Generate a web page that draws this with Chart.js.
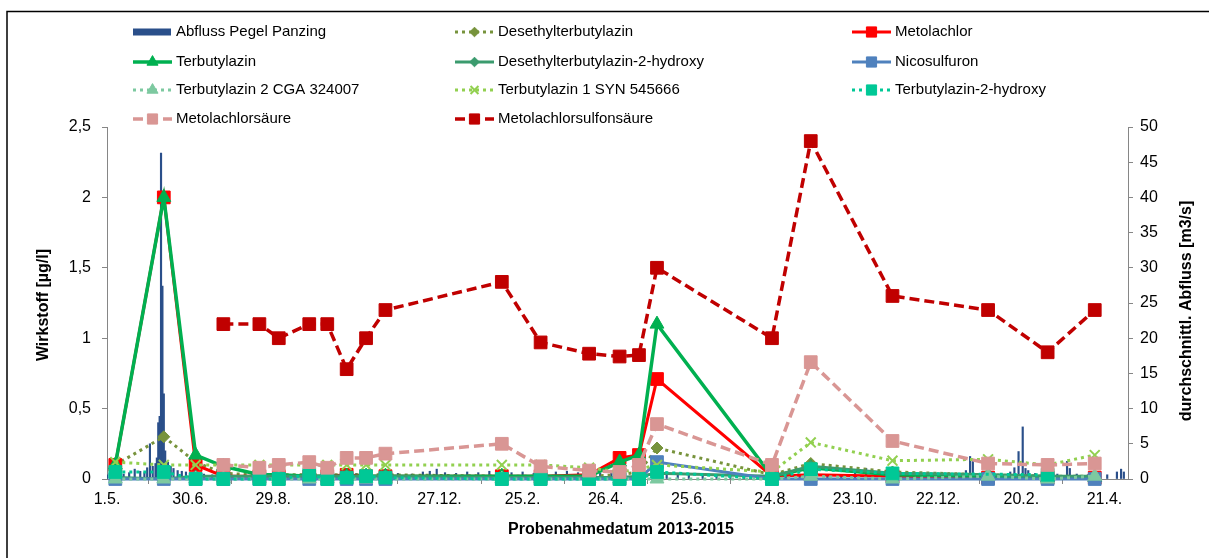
<!DOCTYPE html>
<html lang="de">
<head>
<meta charset="utf-8">
<title>Wirkstoffe und Abfluss Pegel Panzing 2013-2015</title>
<script src="https://cdn.jsdelivr.net/npm/chart.js@4.4.1/dist/chart.umd.min.js"></script>
<style>
  html, body { margin: 0; padding: 0; background: #fff; }
  #wrap { position: relative; width: 1209px; height: 558px; overflow: hidden; }
</style>
</head>
<body>
<div id="wrap"><canvas id="chart" width="1209" height="558"></canvas></div>
<script>
// --- Daten (Tage gezählt ab 1.5.2013) ---
const tickTage   = [0, 60, 120, 180, 240, 300, 360, 420, 480, 540, 600, 660, 720];
const tickLabels = ['1.5.', '30.6.', '29.8.', '28.10.', '27.12.', '25.2.', '26.4.', '25.6.', '24.8.', '23.10.', '22.12.', '20.2.', '21.4.'];

// Probenahmetermine
const probeTage = [6, 41, 64, 84, 110, 124, 146, 159, 173, 187, 201, 285, 313, 348, 370, 384, 397, 480, 508, 567, 636, 679, 713];

// Wirkstoffe [µg/l]
const desethylterbutylazin   = [0.1, 0.3, 0.12, 0.04, 0.03, 0.03, 0.03, 0.03, 0.03, 0.03, 0.03, 0.02, 0.02, 0.02, 0.03, 0.05, 0.22, 0.03, 0.11, 0.05, 0.03, 0.02, 0.02];
const metolachlor            = [0.1, 2.0, 0.1, 0.02, 0.02, 0.02, 0.02, 0.02, 0.03, 0.02, 0.02, 0.02, 0.02, 0.03, 0.15, 0.17, 0.71, 0.02, 0.03, 0.02, 0.01, 0.01, 0.01];
const terbutylazin           = [0.1, 2.0, 0.17, 0.09, 0.03, 0.03, 0.02, 0.02, 0.02, 0.02, 0.02, 0.02, 0.02, 0.02, 0.12, 0.17, 1.1, 0.02, 0.08, 0.03, 0.02, 0.01, 0.01];
const desethylTbaHydroxy     = [0.01, 0, 0.02, 0.02, 0.02, 0.02, 0.02, 0.02, 0.02, 0.02, 0.02, 0.01, 0.01, 0.01, 0.01, 0.02, 0.04, 0.02, 0.09, 0.04, 0.03, 0.02, 0.02];
const nicosulfuron           = [0, 0, 0, 0, 0, 0, 0, 0, 0, 0, 0, 0, 0, 0, 0, 0, 0.12, 0, 0, 0, 0, 0, 0];
const tbaCga324007           = [0, 0, 0, 0, 0, 0, 0, 0, 0, 0, 0, 0, 0, 0, 0, 0, 0, 0, 0.02, 0, 0.02, 0, 0.02];
const tbaSyn545666           = [0.12, 0.1, 0.1, 0.1, 0.1, 0.1, 0.1, 0.1, 0.1, 0.1, 0.1, 0.1, 0.1, 0.08, 0.05, 0.07, 0.1, 0.05, 0.26, 0.13, 0.14, 0.1, 0.17];
const tbaHydroxy             = [0.05, 0.05, 0, 0, 0, 0, 0.03, 0, 0.01, 0.02, 0.01, 0, 0, 0, 0, 0, 0.05, 0, 0.07, 0.04, null, 0.03, null];
const metolachlorsaeure      = [null, null, null, 0.1, 0.08, 0.1, 0.12, 0.08, 0.15, 0.15, 0.18, 0.25, 0.09, 0.06, 0.05, 0.1, 0.39, 0.1, 0.83, 0.27, 0.11, 0.1, 0.11];
const metolachlorsulfonsaeure = [null, null, null, 1.1, 1.1, 1.0, 1.1, 1.1, 0.78, 1.0, 1.2, 1.4, 0.97, 0.89, 0.87, 0.88, 1.5, 1.0, 2.4, 1.3, 1.2, 0.9, 1.2];

// Abfluss Pegel Panzing [m3/s]
const abflussTag  = [0, 4, 8, 12, 16, 20, 24, 27, 29, 31, 33, 35, 36, 37, 38, 39, 40, 41, 42, 44, 46, 48, 51, 54, 57, 60, 64, 70, 76, 82, 90, 98, 106, 114, 122, 130, 140, 150, 160, 170, 180, 190, 200, 210, 220, 228, 233, 238, 244, 252, 260, 268, 276, 284, 292, 300, 308, 316, 324, 332, 340, 348, 356, 364, 372, 380, 388, 396, 404, 412, 420, 430, 440, 450, 460, 470, 480, 490, 500, 510, 520, 530, 540, 548, 558, 566, 574, 582, 590, 598, 606, 614, 620, 623, 625, 630, 638, 646, 652, 655, 658, 661, 663, 665, 670, 678, 686, 693, 695, 700, 708, 716, 722, 729, 732, 734];
const abflussWert = [0.6, 0.8, 1.0, 0.7, 0.9, 1.4, 1.1, 0.9, 1.6, 5.0, 1.8, 2.2, 3.0, 8.0, 8.9, 46.3, 27.4, 12.1, 4.0, 2.4, 1.8, 1.5, 1.2, 1.1, 1.0, 0.9, 0.8, 0.7, 0.6, 0.6, 0.5, 0.5, 0.5, 0.6, 0.5, 0.6, 0.7, 0.8, 0.6, 0.7, 0.8, 0.6, 0.7, 0.8, 0.7, 1.0, 1.1, 1.4, 0.9, 0.8, 1.0, 0.9, 1.1, 0.8, 0.9, 1.0, 0.8, 0.9, 1.0, 1.1, 0.9, 1.0, 0.8, 0.9, 1.2, 1.0, 0.9, 0.8, 0.7, 0.6, 0.6, 0.5, 0.5, 0.5, 0.4, 0.4, 0.4, 0.5, 0.5, 0.6, 0.5, 0.6, 0.8, 1.5, 1.0, 0.7, 0.6, 0.6, 0.5, 0.6, 0.6, 0.8, 1.2, 3.2, 2.5, 0.8, 0.6, 0.7, 1.0, 1.6, 3.9, 7.4, 1.5, 1.2, 0.8, 0.6, 0.7, 2.5, 1.5, 0.7, 0.6, 0.5, 0.6, 1.0, 1.4, 1.0];

// --- Darstellung ---
const FONT = "'Liberation Sans', Arial, sans-serif";
const DOT = [3, 4];
const DASH = [10, 5];

const linien = [
  { label: 'Desethylterbutylazin', werte: desethylterbutylazin, farbe: '#77933C', dash: DOT, breite: 3, stil: 'rectRot', r: 6 },
  { label: 'Metolachlor', werte: metolachlor, farbe: '#FF0000', dash: [], breite: 3, stil: 'rect', r: 9 },
  { label: 'Terbutylazin', werte: terbutylazin, farbe: '#00B050', dash: [], breite: 3.5, stil: 'triangle', r: 8 },
  { label: 'Desethylterbutylazin-2-hydroxy', werte: desethylTbaHydroxy, farbe: '#3B9B6E', dash: [], breite: 3, stil: 'rectRot', r: 6 },
  { label: 'Nicosulfuron', werte: nicosulfuron, farbe: '#4F81BD', dash: [], breite: 3, stil: 'rect', r: 9 },
  { label: 'Terbutylazin 2 CGA 324007', werte: tbaCga324007, farbe: '#7DC9A0', dash: DOT, breite: 3, stil: 'triangle', r: 8 },
  { label: 'Terbutylazin 1 SYN 545666', werte: tbaSyn545666, farbe: '#92D050', dash: DOT, breite: 3, stil: 'crossRot', r: 7 },
  { label: 'Terbutylazin-2-hydroxy', werte: tbaHydroxy, farbe: '#00C896', dash: DOT, breite: 3, stil: 'rect', r: 9 },
  { label: 'Metolachlorsäure', werte: metolachlorsaeure, farbe: '#D99694', dash: DASH, breite: 3.5, stil: 'rect', r: 9 },
  { label: 'Metolachlorsulfonsäure', werte: metolachlorsulfonsaeure, farbe: '#C00000', dash: DASH, breite: 3.5, stil: 'rect', r: 9 }
];

const datasets = [{
  type: 'bar',
  label: 'Abfluss Pegel Panzing',
  data: abflussTag.map((t, i) => ({ x: t, y: abflussWert[i] })),
  yAxisID: 'y2',
  backgroundColor: '#2A4F8A',
  barThickness: 1.5,
  order: 99
}];

linien.forEach((l, i) => {
  datasets.push({
    type: 'line',
    label: l.label,
    data: l.werte.map((v, k) => ({ x: probeTage[k], y: v })),
    yAxisID: 'y',
    borderColor: l.farbe,
    backgroundColor: l.farbe,
    borderWidth: l.breite,
    borderDash: l.dash,
    pointStyle: l.stil,
    pointRadius: l.r,
    pointBackgroundColor: l.farbe,
    pointBorderColor: l.farbe,
    pointBorderWidth: l.stil === 'crossRot' ? 2 : 1,
    tension: 0,
    spanGaps: true,
    clip: false,
    order: linien.length - i
  });
});

// Legende, Achsentitel und Rahmen selbst zeichnen (Excel-Layout)
const legendeZeilen = [32, 62, 90, 119];
const legendeSpalten = [133, 455, 852];

function markerZeichnen(ctx, ds, x, y) {
  ctx.setLineDash([]);
  ctx.fillStyle = ds.pointBackgroundColor;
  ctx.strokeStyle = ds.pointBorderColor;
  ctx.lineWidth = ds.pointBorderWidth;
  Chart.helpers.drawPoint(ctx, { pointStyle: ds.pointStyle, radius: ds.pointRadius * 0.8, borderWidth: ds.pointBorderWidth, rotation: 0 }, x, y);
}

const deko = {
  id: 'deko',
  beforeDraw(chart) {
    const ctx = chart.ctx;
    ctx.save();
    ctx.fillStyle = '#fff';
    ctx.fillRect(0, 0, chart.width, chart.height);
    ctx.restore();
  },
  afterDraw(chart) {
    const ctx = chart.ctx;
    ctx.save();

    // Legende
    ctx.font = '15px ' + FONT;
    ctx.textBaseline = 'middle';
    chart.data.datasets.forEach((ds, i) => {
      const y = legendeZeilen[Math.floor(i / 3)];
      const x = legendeSpalten[i % 3];
      if (ds.type === 'bar') {
        ctx.fillStyle = ds.backgroundColor;
        ctx.fillRect(x, y - 3.5, 38, 7);
      } else {
        ctx.strokeStyle = ds.borderColor;
        ctx.lineWidth = ds.borderWidth;
        ctx.setLineDash(ds.borderDash);
        ctx.beginPath();
        ctx.moveTo(x, y);
        ctx.lineTo(x + 39, y);
        ctx.stroke();
        markerZeichnen(ctx, ds, x + 19.5, y);
      }
      ctx.fillStyle = '#000';
      ctx.fillText(ds.label, x + 43, y);
    });

    // Achsentitel
    ctx.font = 'bold 16px ' + FONT;
    ctx.textAlign = 'center';
    ctx.textBaseline = 'middle';
    ctx.fillText('Probenahmedatum 2013-2015', 621, 530);
    ctx.save();
    ctx.translate(44, 305);
    ctx.rotate(-Math.PI / 2);
    ctx.fillText('Wirkstoff [µg/l]', 0, 0);
    ctx.restore();
    ctx.save();
    ctx.translate(1187, 311);
    ctx.rotate(-Math.PI / 2);
    ctx.fillText('durchschnittl. Abfluss [m3/s]', 0, 0);
    ctx.restore();

    // Rahmen (unten und rechts ausserhalb des Bildes)
    ctx.strokeStyle = '#000';
    ctx.lineWidth = 1.5;
    ctx.strokeRect(7, 11.5, 1215, 560);
    ctx.restore();
  }
};

const achse = { drawOnChartArea: false, drawTicks: true, tickLength: 5, color: '#868686' };
const rand = { display: true, color: '#868686', width: 1 };

new Chart(document.getElementById('chart'), {
  type: 'line',
  data: { datasets },
  options: {
    responsive: false,
    devicePixelRatio: 1,
    animation: false,
    font: { family: FONT, size: 16 },
    color: '#000',
    layout: { padding: { top: 127, left: 0, right: 0, bottom: 0 } },
    plugins: { legend: { display: false }, tooltip: { enabled: false } },
    scales: {
      x: {
        type: 'linear', min: 0, max: 737, offset: false,
        afterFit: s => { s.height = 79; },
        afterBuildTicks: s => { s.ticks = tickTage.map(v => ({ value: v })); },
        ticks: {
          autoSkip: false, maxRotation: 0, padding: 6, color: '#000',
          font: { family: FONT, size: 16 },
          callback: v => tickLabels[tickTage.indexOf(v)] || ''
        },
        grid: achse, border: rand
      },
      y: {
        position: 'left', min: 0, max: 2.5,
        afterFit: s => { s.width = 107; },
        ticks: {
          stepSize: 0.5, padding: 11, color: '#000',
          font: { family: FONT, size: 16 },
          callback: v => String(v).replace('.', ',')
        },
        grid: achse, border: rand
      },
      y2: {
        position: 'right', min: 0, max: 50,
        afterFit: s => { s.width = 81; },
        ticks: { stepSize: 5, padding: 7, color: '#000', font: { family: FONT, size: 16 } },
        grid: achse, border: rand
      }
    }
  },
  plugins: [deko]
});
</script>
</body>
</html>
